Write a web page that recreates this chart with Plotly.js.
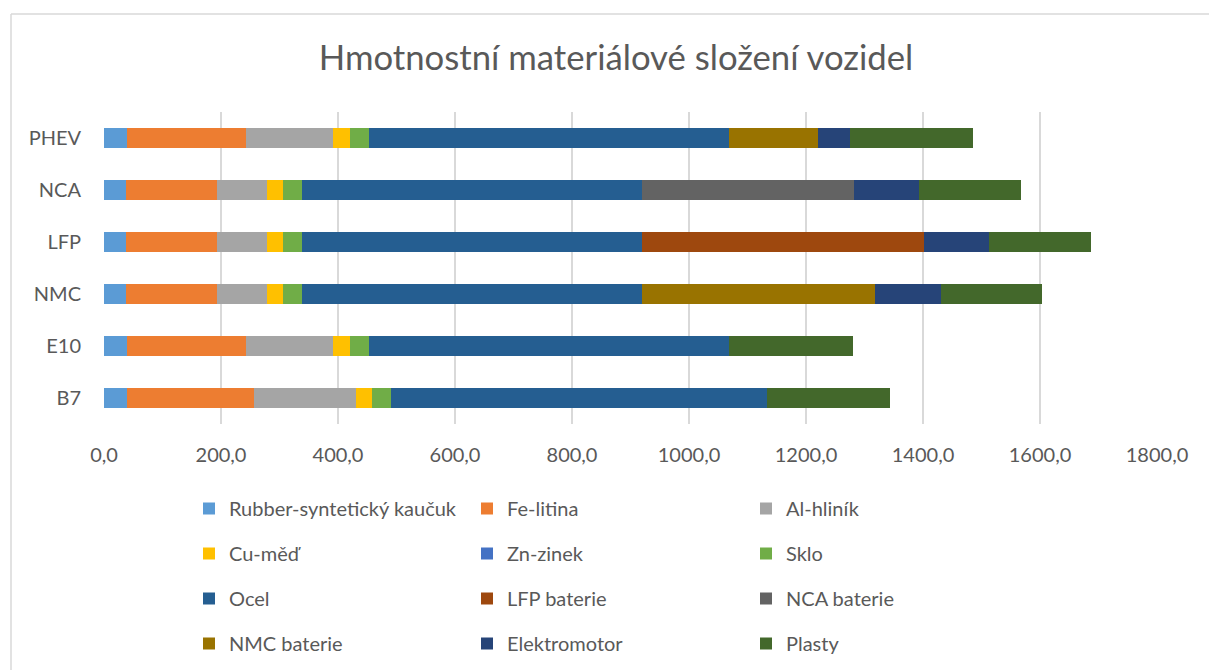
<!DOCTYPE html>
<html>
<head>
<meta charset="utf-8">
<script src="https://cdn.plot.ly/plotly-3.0.1.min.js"></script>
<style>
html,body{margin:0;padding:0;background:#fff;}
#chart{width:1209px;height:670px;}
</style>
</head>
<body>
<div id="chart"></div>
<script>
// Categories (top to bottom)
const categories = ["PHEV", "NCA", "LFP", "NMC", "E10", "B7"];

// Series values (kg), same order as categories
const rubber   = [40, 37, 37, 37, 40, 40];
const feLitina = [202, 157, 157, 157, 202, 216];
const alHlinik = [149, 84, 84, 84, 149, 174];
const cuMed    = [29, 28, 28, 28, 29, 28];
const znZinek  = [0, 0, 0, 0, 0, 0];
const sklo     = [33, 33, 33, 33, 33, 33];
const ocel     = [616, 581, 581, 581, 616, 642];
const lfpBat   = [0, 0, 482, 0, 0, 0];
const ncaBat   = [0, 362, 0, 0, 0, 0];
const nmcBat   = [151, 0, 0, 398, 0, 0];
const elektro  = [56, 111, 111, 112, 0, 0];
const plasty   = [210, 174, 175, 174, 211, 211];

const seriesNames = ["Rubber-syntetický kaučuk", "Fe-litina", "Al-hliník", "Cu-měď", "Zn-zinek", "Sklo",
                     "Ocel", "LFP baterie", "NCA baterie", "NMC baterie", "Elektromotor", "Plasty"];
const seriesValues = [rubber, feLitina, alHlinik, cuMed, znZinek, sklo, ocel, lfpBat, ncaBat, nmcBat, elektro, plasty];
const seriesColors = ["#5B9BD5", "#ED7D31", "#A5A5A5", "#FFC000", "#4472C4", "#70AD47",
                      "#255E91", "#9E480E", "#636363", "#997300", "#264478", "#43682B"];
// legend column for each series (3 columns)
const legendIds = ["legend", "legend2", "legend3"];

// Tick labels
const tickValues = [0, 200, 400, 600, 800, 1000, 1200, 1400, 1600, 1800];
const tickLabels = ["0,0", "200,0", "400,0", "600,0", "800,0", "1000,0", "1200,0", "1400,0", "1600,0", "1800,0"];

const FONT = "Lato, 'Open Sans', sans-serif";
const TXT = "#595959";

const traces = seriesNames.map((name, i) => ({
  type: "bar",
  orientation: "h",
  name: name,
  y: categories,
  x: seriesValues[i],
  marker: {color: seriesColors[i], line: {width: 0}},
  legend: legendIds[i % 3],
  legendgroup: name,
  hoverinfo: "skip"
}));

const legendBase = {
  orientation: "v",
  xref: "container", yref: "container",
  yanchor: "top", xanchor: "left",
  font: {family: FONT, size: 20, color: TXT},
  bgcolor: "rgba(0,0,0,0)",
  tracegroupgap: 16,
  itemwidth: 30
};

const layout = {
  width: 1209, height: 670,
  paper_bgcolor: "#ffffff", plot_bgcolor: "#ffffff",
  margin: {l: 104, r: 52, t: 112, b: 246, autoexpand: false},
  barmode: "stack",
  bargap: 0.6,
  title: {
    text: "Hmotnostní materiálové složení vozidel",
    font: {family: FONT, size: 34.7, color: TXT},
    x: 616 / 1209, xanchor: "center", xref: "container",
    y: 1 - 58 / 670, yanchor: "middle", yref: "container"
  },
  xaxis: {
    range: [0, 1800],
    tickvals: tickValues,
    ticktext: tickLabels,
    tickangle: 0,
    showgrid: true, gridcolor: "#d9d9d9", gridwidth: 1.5,
    zeroline: false, showline: false,
    ticks: "", ticklabelstandoff: 17,
    tickfont: {family: FONT, size: 20, color: TXT},
    fixedrange: true
  },
  yaxis: {
    type: "category",
    categoryorder: "array", categoryarray: categories,
    autorange: "reversed",
    showgrid: false, zeroline: false, showline: false,
    ticks: "", ticklabelstandoff: 22,
    tickfont: {family: FONT, size: 20, color: TXT},
    fixedrange: true
  },
  showlegend: true,
  legend: Object.assign({}, legendBase, {x: 189 / 1209, y: 1 - 489 / 670}),
  legend2: Object.assign({}, legendBase, {x: 467 / 1209, y: 1 - 489 / 670}),
  legend3: Object.assign({}, legendBase, {x: 746 / 1209, y: 1 - 489 / 670}),
  shapes: [
    {type: "line", xref: "paper", yref: "paper",
     x0: (11 - 104) / 1053, x1: (11 - 104) / 1053, y0: -1, y1: (424 - 14) / 312,
     line: {color: "#d9d9d9", width: 1.5}},
    {type: "line", xref: "paper", yref: "paper",
     x0: (11 - 104) / 1053, x1: 1.2, y0: (424 - 14) / 312, y1: (424 - 14) / 312,
     line: {color: "#d9d9d9", width: 1.5}}
  ]
};

Plotly.newPlot("chart", traces, layout, {displayModeBar: false, staticPlot: true});
</script>
</body>
</html>
